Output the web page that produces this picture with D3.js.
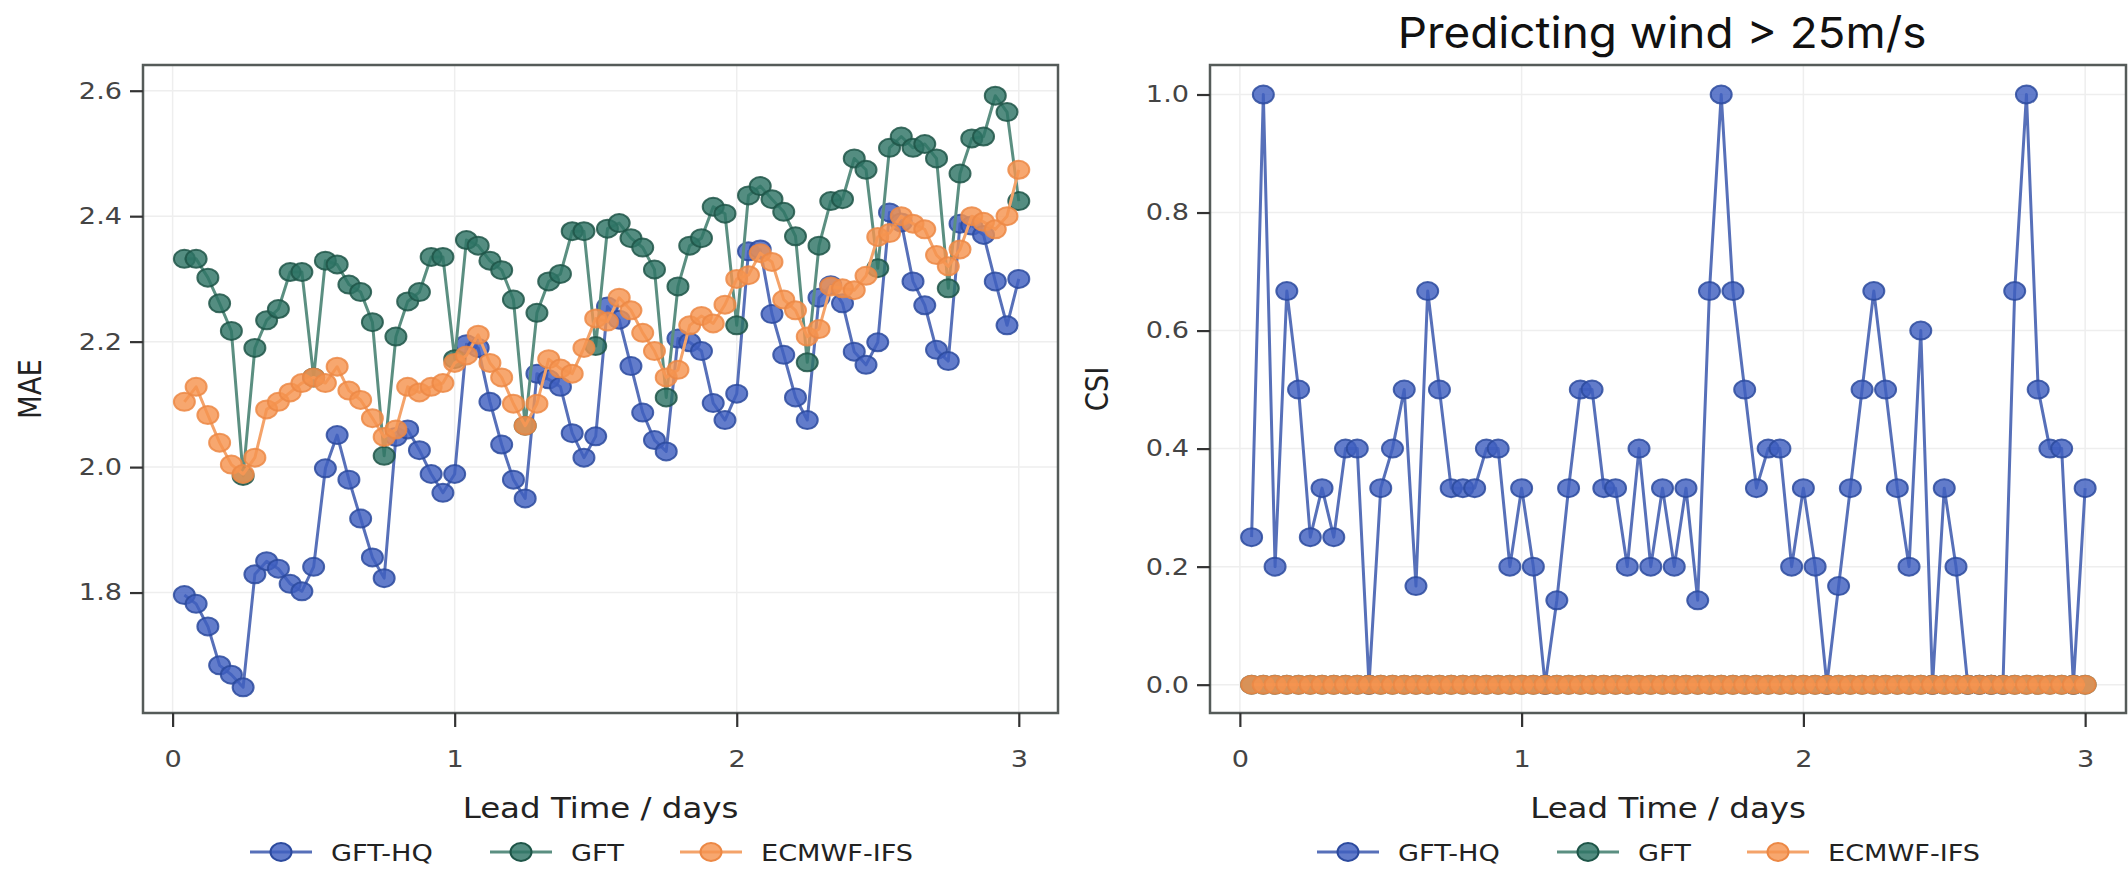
<!DOCTYPE html>
<html><head><meta charset="utf-8">
<script src="https://cdn.jsdelivr.net/npm/d3@7"></script>
<style>body{margin:0;background:#fff}</style>
</head><body>
<svg id="c" width="2128" height="873" xmlns="http://www.w3.org/2000/svg"></svg>
<script>
// ---------------- data ----------------
const leadHours = [1,2,3,4,5,6,7,8,9,10,11,12,13,14,15,16,17,18,19,20,21,22,23,24,
  25,26,27,28,29,30,31,32,33,34,35,36,37,38,39,40,41,42,43,44,45,46,47,48,
  49,50,51,52,53,54,55,56,57,58,59,60,61,62,63,64,65,66,67,68,69,70,71,72];

const seriesNames = ["GFT-HQ", "GFT", "ECMWF-IFS"];

const maeGFTHQ = [1.796,1.782,1.746,1.684,1.669,1.649,1.829,1.850,1.838,1.814,1.802,1.841,
  1.998,2.051,1.980,1.918,1.856,1.823,2.048,2.060,2.027,1.989,1.959,1.989,
  2.196,2.190,2.104,2.036,1.980,1.950,2.149,2.140,2.128,2.054,2.015,2.049,
  2.256,2.235,2.161,2.087,2.043,2.025,2.205,2.199,2.185,2.102,2.075,2.117,
  2.344,2.347,2.244,2.179,2.111,2.075,2.270,2.290,2.261,2.184,2.163,2.199,
  2.406,2.390,2.296,2.258,2.187,2.169,2.388,2.385,2.370,2.296,2.226,2.300];

const maeGFT = [2.332,2.332,2.302,2.261,2.217,1.986,2.190,2.234,2.252,2.311,2.311,2.143,
  2.329,2.323,2.291,2.279,2.231,2.018,2.208,2.264,2.279,2.335,2.335,2.172,
  2.362,2.353,2.329,2.314,2.267,2.066,2.246,2.296,2.308,2.376,2.376,2.193,
  2.380,2.389,2.365,2.350,2.315,2.111,2.288,2.353,2.365,2.415,2.404,2.226,
  2.433,2.448,2.427,2.407,2.368,2.167,2.353,2.424,2.427,2.492,2.474,2.317,
  2.509,2.527,2.509,2.515,2.492,2.285,2.468,2.524,2.527,2.592,2.566,2.424];

const maeECMWF = [2.104,2.128,2.083,2.039,2.004,1.989,2.015,2.092,2.104,2.119,2.134,2.143,
  2.134,2.160,2.122,2.107,2.078,2.048,2.060,2.128,2.119,2.128,2.134,2.166,
  2.178,2.211,2.166,2.143,2.101,2.066,2.101,2.172,2.157,2.149,2.190,2.237,
  2.232,2.270,2.250,2.214,2.185,2.143,2.155,2.226,2.241,2.229,2.259,2.300,
  2.306,2.341,2.327,2.267,2.250,2.208,2.220,2.288,2.285,2.282,2.305,2.367,
  2.373,2.400,2.388,2.379,2.338,2.320,2.347,2.400,2.391,2.379,2.400,2.474];

const csiGFTHQ = [0.25,1.0,0.2,0.667,0.5,0.25,0.333,0.25,0.4,0.4,0,0.333,
  0.4,0.5,0.167,0.667,0.5,0.333,0.333,0.333,0.4,0.4,0.2,0.333,
  0.2,0,0.143,0.333,0.5,0.5,0.333,0.333,0.2,0.4,0.2,0.333,
  0.2,0.333,0.143,0.667,1.0,0.667,0.5,0.333,0.4,0.4,0.2,0.333,
  0.2,0,0.167,0.333,0.5,0.667,0.5,0.333,0.2,0.6,0,0.333,
  0.2,0,0,0,0,0.667,1.0,0.5,0.4,0.4,0,0.333];

const csiGFT = [0,0,0,0,0,0,0,0,0,0,0,0,0,0,0,0,0,0,0,0,0,0,0,0,
  0,0,0,0,0,0,0,0,0,0,0,0,0,0,0,0,0,0,0,0,0,0,0,0,
  0,0,0,0,0,0,0,0,0,0,0,0,0,0,0,0,0,0,0,0,0,0,0,0];

const csiECMWF = [0,0,0,0,0,0,0,0,0,0,0,0,0,0,0,0,0,0,0,0,0,0,0,0,
  0,0,0,0,0,0,0,0,0,0,0,0,0,0,0,0,0,0,0,0,0,0,0,0,
  0,0,0,0,0,0,0,0,0,0,0,0,0,0,0,0,0,0,0,0,0,0,0,0];

const xTicks = [0, 1, 2, 3];
const maeTicks = [1.8, 2.0, 2.2, 2.4, 2.6];
const csiTicks = [0.0, 0.2, 0.4, 0.6, 0.8, 1.0];
const xLabel = "Lead Time / days";
const titleRight = "Predicting wind > 25m/s";

// ---------------- styling ----------------
const palette = {
  "GFT-HQ":    {line:"#5770b9", fill:"#3f5fc0", edge:"#2c4a9e"},
  "GFT":       {line:"#5b8f81", fill:"#2e7465", edge:"#1e5548"},
  "ECMWF-IFS": {line:"#f4a36a", fill:"#f5944f", edge:"#ec8845"}
};
const SX = 1.18;            // horizontal stretch of the reference
const FONT = "'DejaVu Sans', sans-serif";
const svg = d3.select("#c");

function stretchText(sel){
  sel.each(function(){
    const t = d3.select(this);
    const x = +t.attr("x") || 0;
    t.attr("x", x / SX).attr("transform", `scale(${SX},1)`);
  });
}

function panel(cfg){
  const g = svg.append("g");
  const x = d3.scaleLinear().domain(cfg.xDomain).range([cfg.left, cfg.right]);
  const y = d3.scaleLinear().domain(cfg.yDomain).range([cfg.bottom, cfg.top]);

  // grid
  g.append("g").selectAll("line.gx").data(xTicks).join("line")
    .attr("x1", d=>x(d)).attr("x2", d=>x(d)).attr("y1", cfg.top).attr("y2", cfg.bottom)
    .attr("stroke", "#eeeeee").attr("stroke-width", 1.5);
  g.append("g").selectAll("line.gy").data(cfg.yTicks).join("line")
    .attr("y1", d=>y(d)).attr("y2", d=>y(d)).attr("x1", cfg.left).attr("x2", cfg.right)
    .attr("stroke", "#eeeeee").attr("stroke-width", 1.5);

  // series
  const days = leadHours.map(h => h / 24);
  cfg.series.forEach((vals, i) => {
    const name = seriesNames[i];
    const c = palette[name];
    const pts = vals.map((v, j) => [days[j], v]);
    g.append("path").datum(pts)
      .attr("fill", "none").attr("stroke", c.line).attr("stroke-width", 3)
      .attr("stroke-linejoin", "round")
      .attr("d", d3.line().x(d=>x(d[0])).y(d=>y(d[1])));
    g.append("g").selectAll("ellipse").data(pts).join("ellipse")
      .attr("cx", d=>x(d[0])).attr("cy", d=>y(d[1]))
      .attr("rx", 10.5).attr("ry", 9)
      .attr("fill", c.fill).attr("fill-opacity", 0.82)
      .attr("stroke", c.edge).attr("stroke-width", 2).attr("stroke-opacity", 0.85);
  });

  // frame
  g.append("rect").attr("x", cfg.left).attr("y", cfg.top)
    .attr("width", cfg.right - cfg.left).attr("height", cfg.bottom - cfg.top)
    .attr("fill", "none").attr("stroke", "#555b59").attr("stroke-width", 2.5);

  // axes
  const ax = g.append("g").attr("transform", `translate(0,${cfg.bottom})`)
    .call(d3.axisBottom(x).tickValues(xTicks).tickFormat(d3.format("d")).tickSize(14).tickPadding(24));
  const ay = g.append("g").attr("transform", `translate(${cfg.left},0)`)
    .call(d3.axisLeft(y).tickValues(cfg.yTicks).tickFormat(d3.format(".1f")).tickSize(13).tickPadding(cfg.yPad));
  [ax, ay].forEach(a => {
    a.select(".domain").remove();
    a.selectAll(".tick line").attr("stroke", "#333").attr("stroke-width", 2.2);
    a.selectAll(".tick text").attr("font-family", FONT).attr("font-size", 23).attr("fill", "#444");
    stretchText(a.selectAll(".tick text"));
  });

  // labels
  const cx = (cfg.left + cfg.right) / 2;
  g.append("text").attr("transform", `translate(${cx},818) scale(${SX},1)`)
    .attr("text-anchor", "middle").attr("font-family", FONT).attr("font-size", 27.5)
    .attr("fill", "#222").text(xLabel);
  g.append("text").attr("transform", `translate(${cfg.yLabelX},${(cfg.top+cfg.bottom)/2}) scale(${SX},1) rotate(-90)`)
    .attr("text-anchor", "middle").attr("font-family", FONT).attr("font-size", 27.5)
    .attr("fill", "#222").text(cfg.yLabel);

  // legend
  const legX = [138, 378, 568].map(v => v + cfg.left);
  seriesNames.forEach((name, i) => {
    const c = palette[name];
    const lx = legX[i], ly = 852;
    g.append("line").attr("x1", lx-31).attr("x2", lx+31).attr("y1", ly).attr("y2", ly)
      .attr("stroke", c.line).attr("stroke-width", 3);
    g.append("ellipse").attr("cx", lx).attr("cy", ly).attr("rx", 10.5).attr("ry", 9)
      .attr("fill", c.fill).attr("fill-opacity", 0.82).attr("stroke", c.edge).attr("stroke-width", 2);
    g.append("text").attr("transform", `translate(${lx+50},${ly+8.5}) scale(${SX},1)`)
      .attr("font-family", FONT).attr("font-size", 23).attr("fill", "#222").text(name);
  });
  return {x, y};
}

panel({left:143, right:1058, top:65, bottom:713,
  xDomain:[-0.105, 3.139], yDomain:[1.608, 2.641], yTicks:maeTicks,
  series:[maeGFTHQ, maeGFT, maeECMWF], yLabel:"MAE", yLabelX:41, yPad:8});

panel({left:1210, right:2126, top:65, bottom:713,
  xDomain:[-0.106, 3.145], yDomain:[-0.048, 1.050], yTicks:csiTicks,
  series:[csiGFTHQ, csiGFT, csiECMWF], yLabel:"CSI", yLabelX:1108, yPad:8});

// title
const title = svg.append("text").attr("font-family", "Inter, 'Noto Sans', sans-serif")
  .attr("font-size", 43).attr("fill", "#111").attr("text-anchor", "middle").text(titleRight);
const tw = title.node().getComputedTextLength();
const ts = 529 / tw;
title.attr("transform", `translate(1662,48) scale(${ts},1)`);
</script>
</body></html>
